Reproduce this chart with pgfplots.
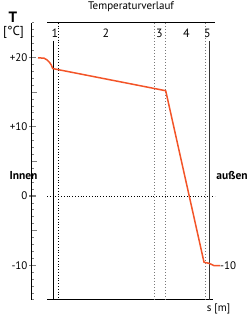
\documentclass[border=0pt]{standalone}
\usepackage{fontspec}
\setmainfont{PT Sans}
\usepackage{pgfplots}
\pgfplotsset{compat=1.18}
\definecolor{curve}{RGB}{243,84,40}
\definecolor{dgray}{RGB}{120,120,120}
\begin{document}
\begin{tikzpicture}
\begin{axis}[
 scale only axis, width=219.5pt, height=277pt,
 xmin=31.5, xmax=251, ymin=-15, ymax=25,
 axis x line=none, axis y line*=left, axis line style={-, line width=0.9pt},
 ytick={-10,0,10,20}, yticklabels={-10,0,+10,+20},
 minor ytick={-15,-14,...,25},
 tick align=inside, major tick length=7pt, minor tick length=2.8pt,
 every major tick/.append style={line width=1.1pt, xshift=-2.5pt},
 every minor tick/.append style={line width=0.8pt},
 extra y ticks={-5,5,15}, extra y tick labels={},
 extra y tick style={major tick length=5.5pt, every major tick/.append style={xshift=2.5pt}},
 yticklabel style={font=\fontsize{11}{12}\selectfont, xshift=-0.5pt},
 clip=false,
]
% frame lines
\addplot[black, line width=0.9pt] coordinates {(47,25) (215,25)};
\addplot[black, line width=0.9pt] coordinates {(47,-15) (213,-15)};
\addplot[black, dotted, line width=0.8pt] coordinates {(47,0) (215,0)};
% layer boundaries
\addplot[black, line width=1pt] coordinates {(53,22.4) (53,-15)};
\addplot[black, dotted, line width=0.8pt] coordinates {(58.3,25) (58.3,-15)};
\addplot[dgray, dotted, line width=1pt] coordinates {(154,25) (154,-15)};
\addplot[dgray, dotted, line width=1pt] coordinates {(165.7,25) (165.7,-15)};
\addplot[dgray, dotted, line width=1pt] coordinates {(205,25) (205,-15)};
\addplot[black!80, line width=1pt] coordinates {(209,22.4) (209,-15)};
% temperature curve
\addplot[curve, line width=1.5pt, line join=round] coordinates {
 (38,19.95) (44,19.9) (47,19.65) (49.5,19.3) (51.3,18.9) (52.7,18.4)
 (165.7,15.2) (204,-9.57) (209,-9.72) (214,-10.05) (220,-10.05)};
% texts
\node[font=\fontsize{11}{12}\selectfont] at (axis cs:131,27.3) {Temperaturverlauf};
\node[inner sep=0pt, font=\bfseries\fontsize{15}{16}\selectfont] at (axis cs:13,25.8) {T};
\node[inner sep=0pt, font=\fontsize{13}{14}\selectfont] at (axis cs:13.5,23.6) {[°C]};
\node[font=\fontsize{12}{12}\selectfont] at (axis cs:55,23.5) {1};
\node[font=\fontsize{12}{12}\selectfont] at (axis cs:106,23.5) {2};
\node[font=\fontsize{12}{12}\selectfont] at (axis cs:159.5,23.5) {3};
\node[font=\fontsize{12}{12}\selectfont] at (axis cs:186.5,23.5) {4};
\node[font=\fontsize{12}{12}\selectfont] at (axis cs:207.3,23.5) {5};
\node[font=\bfseries\fontsize{11.5}{12}\selectfont] at (axis cs:23.5,2.9) {Innen};
\node[font=\bfseries\fontsize{11.5}{12}\selectfont] at (axis cs:232,2.9) {außen};
\node[font=\fontsize{11}{12}\selectfont] at (axis cs:228,-10) {-10};
\node[font=\fontsize{11}{12}\selectfont] at (axis cs:218.5,-16.3) {s [m]};
\coordinate (bl) at (axis cs:0,-17.04);
\coordinate (tr) at (axis cs:251,28.30);
\end{axis}
\pgfresetboundingbox
\path[use as bounding box] (bl) rectangle (tr);
\end{tikzpicture}
\end{document}
